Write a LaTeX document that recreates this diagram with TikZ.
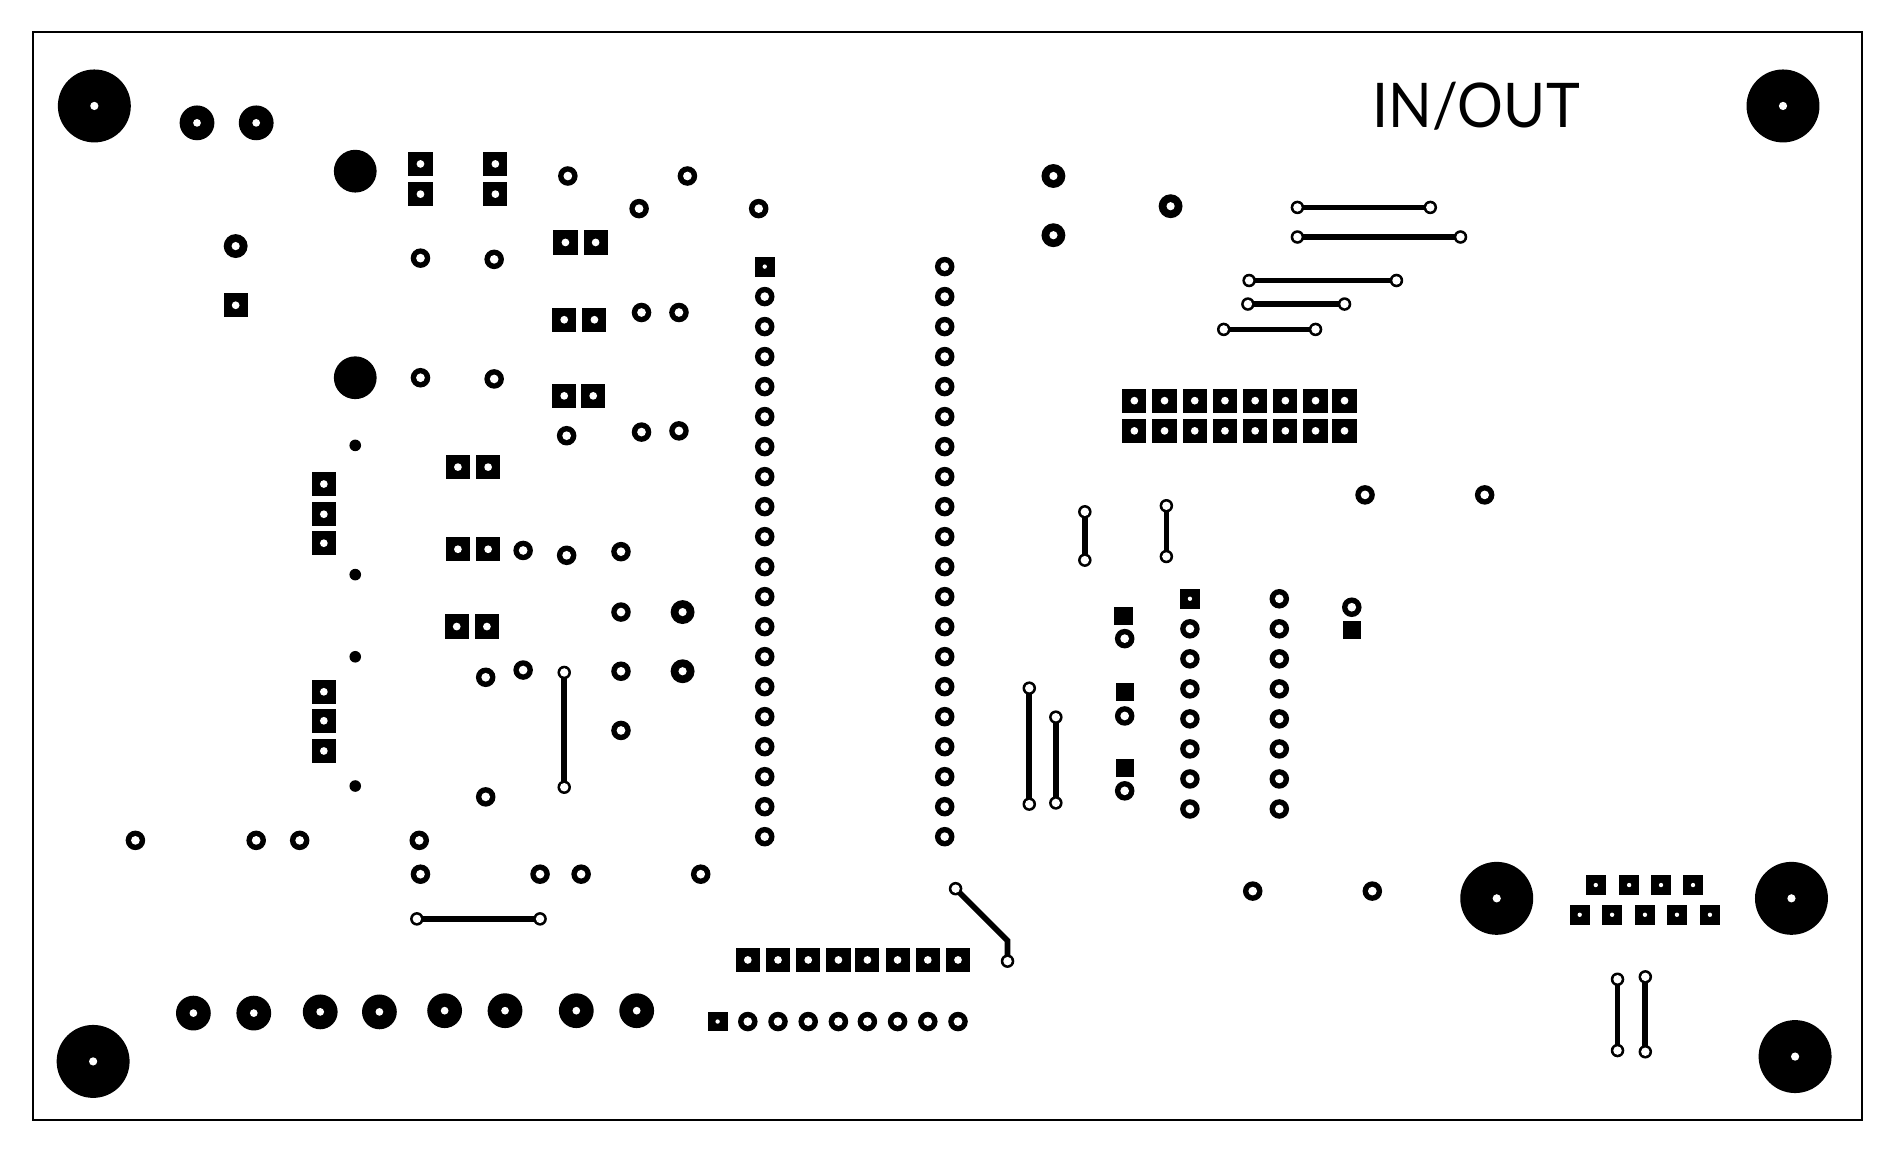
\documentclass[tikz,border=0pt]{standalone}
\usepackage{fontspec}
\setmainfont{Lato}
\tikzset{
  x=0.5pt,y=-0.5pt,
  blk/.style={fill=black,draw=none},
  wht/.style={fill=white,draw=none},
  trace/.style={draw=black,line width=2.35pt,line cap=butt,line join=miter},
}
\newcommand{\padround}[4]{\fill[blk] (#1,#2) circle[radius=#3*0.5pt];\fill[wht] (#1,#2) circle[radius=#4*0.5pt];}
\newcommand{\padsq}[4]{\fill[blk] ({#1-#3},{#2-#3}) rectangle ({#1+#3},{#2+#3});\fill[wht] (#1,#2) circle[radius=#4*0.5pt];}
\newcommand{\ringpad}[2]{\padround{#1}{#2}{8.1}{3.6}}
\newcommand{\viapad}[2]{\padround{#1}{#2}{5.6}{3.5}}
\newcommand{\sqpad}[2]{\padsq{#1}{#2}{10}{3.2}}
\newcommand{\smallsq}[2]{\padsq{#1}{#2}{8.2}{1.8}}
\begin{document}
\begin{tikzpicture}
\useasboundingbox (0,0) rectangle (1568,955.4);
\begin{scope}[shift={(0.1,0.7)}]
\draw[black,line width=0.75pt] (27.4,25.7) rectangle (1541.4,926.7);
\node[anchor=center,inner sep=0pt,xscale=0.93,font=\fontsize{25.5}{28}\selectfont] (title) at (1222,87.5) {IN/OUT};
% mounting holes
\foreach \x/\y in {78/87,1476/87,77/878,1239/743,1483/743,1486/874} {\padround{\x}{\y}{30.2}{3.4}}
% large round pads
\foreach \x/\y in {163/101,212/101,160/838,210/838,265/837,314/837,368/836,418/836,477/836,527/836} {\padround{\x}{\y}{14.4}{3.2}}
% medium round pads
\foreach \x/\y in {872/145,872/194,969/170,565/506,565/555,195/203} {\padround{\x}{\y}{9.9}{3.4}}
% solid discs
\foreach \x/\y in {294/141,294/312} {\fill[blk] (\x,\y) circle[radius=17.7*0.5pt];}
% tiny dots
\foreach \x/\y in {294/368,294/475,294/543,294/650} {\fill[blk] (\x,\y) circle[radius=4.8*0.5pt];}
% square pads
\foreach \x/\y in {348/135,348/160,410/135,410/160,468/200,493/200,467/264,492/264,467/327,491/327,195/252,268/400,268/425,268/449,379/386,404/386,379/454,404/454,378/518,403/518,268/572,268/596,268/621} {\sqpad{\x}{\y}}
\foreach \x in {939,964,989,1014,1039,1064,1089,1113} {\sqpad{\x}{331}\sqpad{\x}{356}}
\foreach \x in {619,644,669,694,718,743,768,793} {\sqpad{\x}{794}\ringpad{\x}{845}}
\smallsq{594}{845}
\smallsq{633}{220}
\smallsq{985}{495}
% solid squares
\foreach \x/\y in {930/509,931/572,931/635,1119/521} {\fill[blk] (\x-7.5,\y-7.5) rectangle (\x+7.5,\y+7.5);}
% connector
\foreach \x in {1321,1348.6,1375,1401.5} {\smallsq{\x}{732}}
\foreach \x in {1307.7,1334.5,1361.7,1388.2,1415.5} {\smallsq{\x}{756.6}}
% rings
\foreach \x/\y in {470/145,569/145,529/172,628/172,348/213,409/214,348/312,409/313,531/258,562/258,531/357,562/356,469/360,433/455,469/459,514/456,514/506,514/555,514/604,402/560,433/554,402/659,112/695,212/695,248/695,347/695,348/723,447/723,481/723,580/723,1130/409,1229/409,1037/737,1136/737,1119/502,931/528,931/592,931/654} {\ringpad{\x}{\y}}
\foreach \i in {1,...,19} {\ringpad{633}{220+\i*24.84}}
\foreach \i in {0,...,19} {\ringpad{782}{220+\i*24.84}}
\foreach \i in {1,...,7} {\ringpad{985}{495+\i*24.86}}
\foreach \i in {0,...,7} {\ringpad{1059}{495+\i*24.86}}
% traces
\foreach \a/\b/\c/\d in {1074/171/1184/171,1074/195.5/1209/195.5,1034/231.5/1156/231.5,1033/251/1113/251,1013/272/1089/272,898/423/898/463,965.5/418/965.5/460,467/556/467/651,852/569/852/665,874/593/874/664,345/760/447/760,1339/810/1339/869,1362/808/1362/870} {
  \coordinate (ta) at (\a,\b); \coordinate (tb) at (\c,\d);
  \draw[trace] (ta) -- (tb);
  \viapad{\a}{\b}\viapad{\c}{\d}
}
\coordinate (da) at (791,735); \coordinate (db) at (834,778); \coordinate (dc) at (834,795);
\draw[trace] (da) -- (db) -- (dc);
\viapad{791}{735}\viapad{834}{795}
\end{scope}
\end{tikzpicture}
\end{document}
